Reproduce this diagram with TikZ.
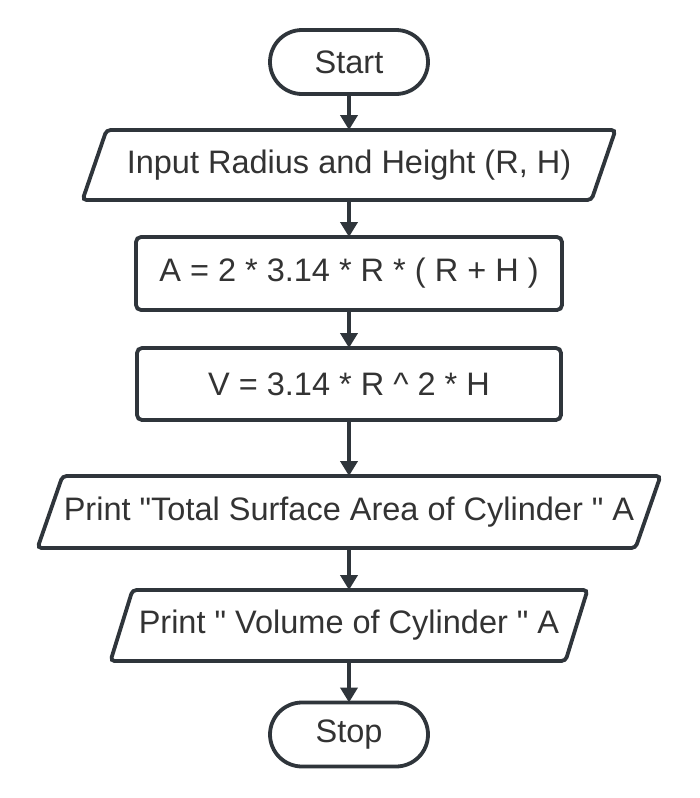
\documentclass[tikz,border=0pt]{standalone}
\usepackage{fontspec}
\setmainfont{Liberation Sans}[Ligatures=TeXOff]
\usetikzlibrary{arrows.meta,calc}
\definecolor{ink}{HTML}{2F353B}
\definecolor{txt}{HTML}{333333}
\tikzset{
  base/.style={inner sep=0pt, outer sep=0pt, text=txt, font=\fontsize{32.5}{38}\selectfont},
  term/.style={base, draw=ink, line width=3.8pt, rounded corners=32pt, minimum width=158pt, minimum height=64pt},
  procbox/.style={base, draw=ink, line width=3.8pt, rounded corners=5pt},
  iobox/.style={base},
  flow/.style={draw=ink, line width=4.5pt, -{Triangle[width=17pt,length=15pt]}},
  ioshape/.style={draw=ink, line width=3.8pt, rounded corners=4pt}
}
\newcommand{\ioframe}[2]{%
  \draw[ioshape] ($(#1.north west)+(#2,0)$) -- ($(#1.north east)+(#2,0)$) -- ($(#1.south east)+(-#2,0)$) -- ($(#1.south west)+(-#2,0)$) -- cycle;}
\begin{document}
\begin{tikzpicture}[x=1pt,y=-1pt]
\useasboundingbox[fill=white] (0,0) rectangle (700,798);
\node[term] (start) at (349,62) {Start};
\node[iobox, minimum width=509pt, minimum height=70pt] (in) at (349,165) {Input Radius and Height (R, H)};
\ioframe{in}{12pt}
\node[procbox, minimum width=426pt, minimum height=73pt] (a) at (349,273.5) {A = 2 * 3.14 * R * ( R + H )};
\node[procbox, minimum width=424pt, minimum height=72pt] (v) at (349,384) {V = 3.14 * R \^{} 2 * H};
\node[iobox, minimum width=598pt, minimum height=72pt] (pt) at (349,512) {Print "Total Surface Area of Cylinder " A};
\ioframe{pt}{12.5pt}
\node[iobox, minimum width=455pt, minimum height=71pt] (pv) at (349,625.5) {Print " Volume of Cylinder " A};
\ioframe{pv}{11pt}
\node[term] (stop) at (349,734.5) {Stop};
\draw[flow] (start) -- (in);
\draw[flow] (in) -- (a);
\draw[flow] (a) -- (v);
\draw[flow] (v) -- (pt);
\draw[flow] (pt) -- (pv);
\draw[flow] (pv) -- (stop);
\end{tikzpicture}
\end{document}
